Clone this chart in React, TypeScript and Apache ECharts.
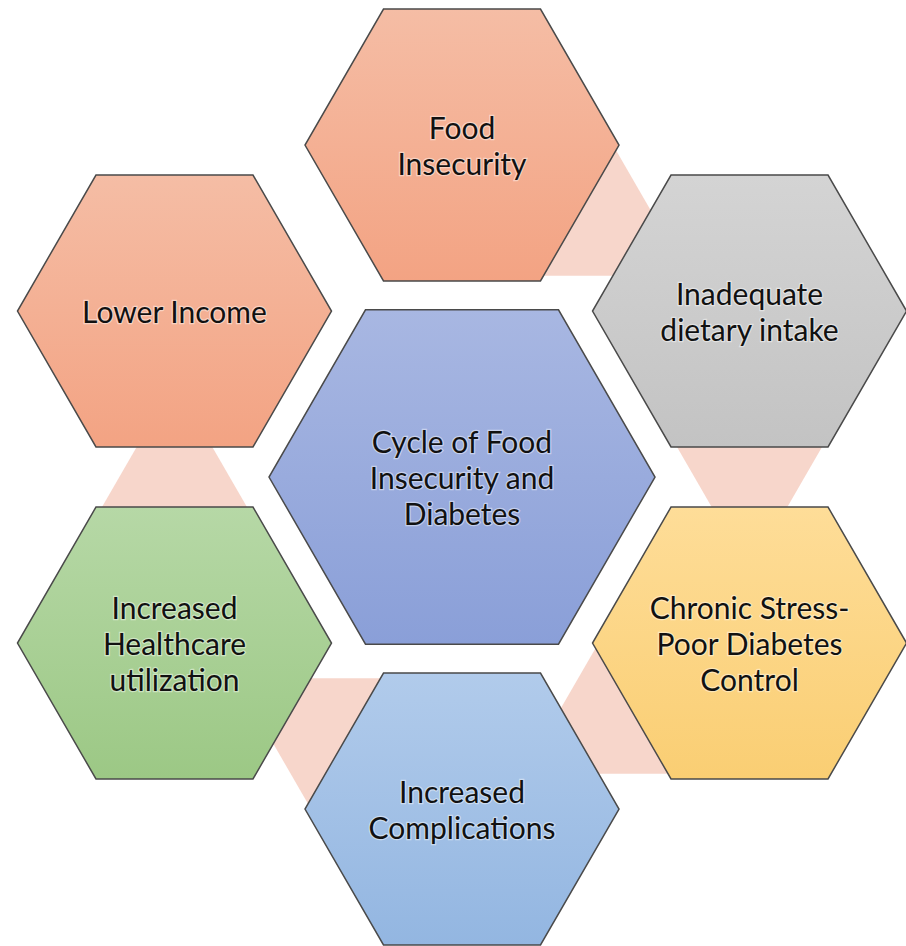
import React, { useEffect, useRef } from "react";
import * as echarts from "echarts";

// ---- diagram content ----
const centerLabel = "Cycle of Food\nInsecurity and\nDiabetes";
const ringLabels = [
  "Food\nInsecurity",
  "Inadequate\ndietary intake",
  "Chronic Stress-\nPoor Diabetes\nControl",
  "Increased\nComplications",
  "Increased\nHealthcare\nutilization",
  "Lower Income",
];
// angle of each ring node around the centre (degrees, counter-clockwise from east)
const ringAngles = [90, 30, -30, -90, -150, 150];
// cycle links (from -> to) drawn as tapering connectors
const links: [number, number][] = [
  [0, 1],
  [1, 2],
  [2, 3],
  [3, 4],
  [4, 5],
];
const ringColors: [string, string][] = [
  ["#F5BDA5", "#F3A383"],
  ["#D4D4D4", "#C3C3C3"],
  ["#FEDD98", "#FACE73"],
  ["#B1CBEB", "#93B6E1"],
  ["#B6D8A6", "#9CC885"],
  ["#F5BDA5", "#F3A383"],
];
const centerColors: [string, string] = ["#A8B7E2", "#8A9FD8"];

// ---- layout (pixel-like units) ----
const W = 906;
const H = 946;
const CX = 462;
const CY = 477;
const RING = 332;
const R_OUTER = 157;
const R_CENTER = 193;

export default function App() {
  const ref = useRef<HTMLDivElement>(null);

  useEffect(() => {
    if (!ref.current) return;
    const chart = echarts.init(ref.current, undefined, { renderer: "svg" });

    const ringPos = ringAngles.map((a) => {
      const rad = (a * Math.PI) / 180;
      return [CX + RING * Math.cos(rad), CY - RING * Math.sin(rad)];
    });

    const nodeData = [
      ...ringPos.map((p, i) => [p[0], p[1], R_OUTER, i]),
      [CX, CY, R_CENTER, -1],
    ];
    const linkData = links.map(([a, b]) => [
      ringPos[a][0],
      ringPos[a][1],
      ringPos[b][0],
      ringPos[b][1],
    ]);

    const apothem = R_OUTER * Math.cos(Math.PI / 6);
    const tan30 = Math.tan(Math.PI / 6);
    const hwAtEdge = 72.5;

    chart.setOption({
      animation: false,
      backgroundColor: "#ffffff",
      grid: { left: 0, right: 0, top: 0, bottom: 0 },
      xAxis: { type: "value", min: 0, max: W, show: false },
      yAxis: { type: "value", min: 0, max: H, inverse: true, show: false },
      series: [
        {
          type: "custom",
          z: 1,
          silent: true,
          data: linkData,
          encode: { x: [0, 2], y: [1, 3] },
          renderItem: (params: any, api: any) => {
            const ax = api.value(0);
            const ay = api.value(1);
            const bx = api.value(2);
            const by = api.value(3);
            const dx = bx - ax;
            const dy = by - ay;
            const len = Math.sqrt(dx * dx + dy * dy);
            const ux = dx / len;
            const uy = dy / len;
            const nx = -uy;
            const ny = ux;
            const hw = (t: number) => hwAtEdge - (t - apothem) * tan30;
            const t0 = apothem - 8;
            const t1 = len - apothem + 8;
            const P = (t: number, s: number) =>
              api.coord([ax + t * ux + s * nx, ay + t * uy + s * ny]);
            return {
              type: "polygon",
              shape: {
                points: [P(t0, hw(t0)), P(t1, hw(t1)), P(t1, -hw(t1)), P(t0, -hw(t0))],
              },
              style: { fill: "#F7D6CB" },
            };
          },
        },
        {
          type: "custom",
          z: 2,
          silent: true,
          data: nodeData,
          encode: { x: 0, y: 1 },
          renderItem: (params: any, api: any) => {
            const cx = api.value(0);
            const cy = api.value(1);
            const r = api.value(2);
            const idx = api.value(3);
            const pts: number[][] = [];
            for (let k = 0; k < 6; k++) {
              const a = (k * Math.PI) / 3;
              pts.push(api.coord([cx + r * Math.cos(a), cy + r * Math.sin(a)]));
            }
            const cols = idx < 0 ? centerColors : ringColors[idx];
            const label = idx < 0 ? centerLabel : ringLabels[idx];
            const c = api.coord([cx, cy]);
            return {
              type: "group",
              children: [
                {
                  type: "polygon",
                  shape: { points: pts },
                  style: {
                    fill: new echarts.graphic.LinearGradient(0, 0, 0, 1, [
                      { offset: 0, color: cols[0] },
                      { offset: 1, color: cols[1] },
                    ]),
                    stroke: "#4a4a4a",
                    lineWidth: 1.5,
                  },
                },
                {
                  type: "text",
                  x: c[0],
                  y: c[1],
                  style: {
                    text: label,
                    fill: "#111111",
                    font: "30px Lato",
                    align: "center",
                    verticalAlign: "middle",
                    lineHeight: 36,
                    stroke: "rgba(255,255,255,0.45)",
                    lineWidth: 2.5,
                  },
                },
              ],
            };
          },
        },
      ],
    });

    return () => chart.dispose();
  }, []);

  return (
    <div
      ref={ref}
      style={{ position: "fixed", left: 0, top: 0, width: W, height: H }}
    />
  );
}
